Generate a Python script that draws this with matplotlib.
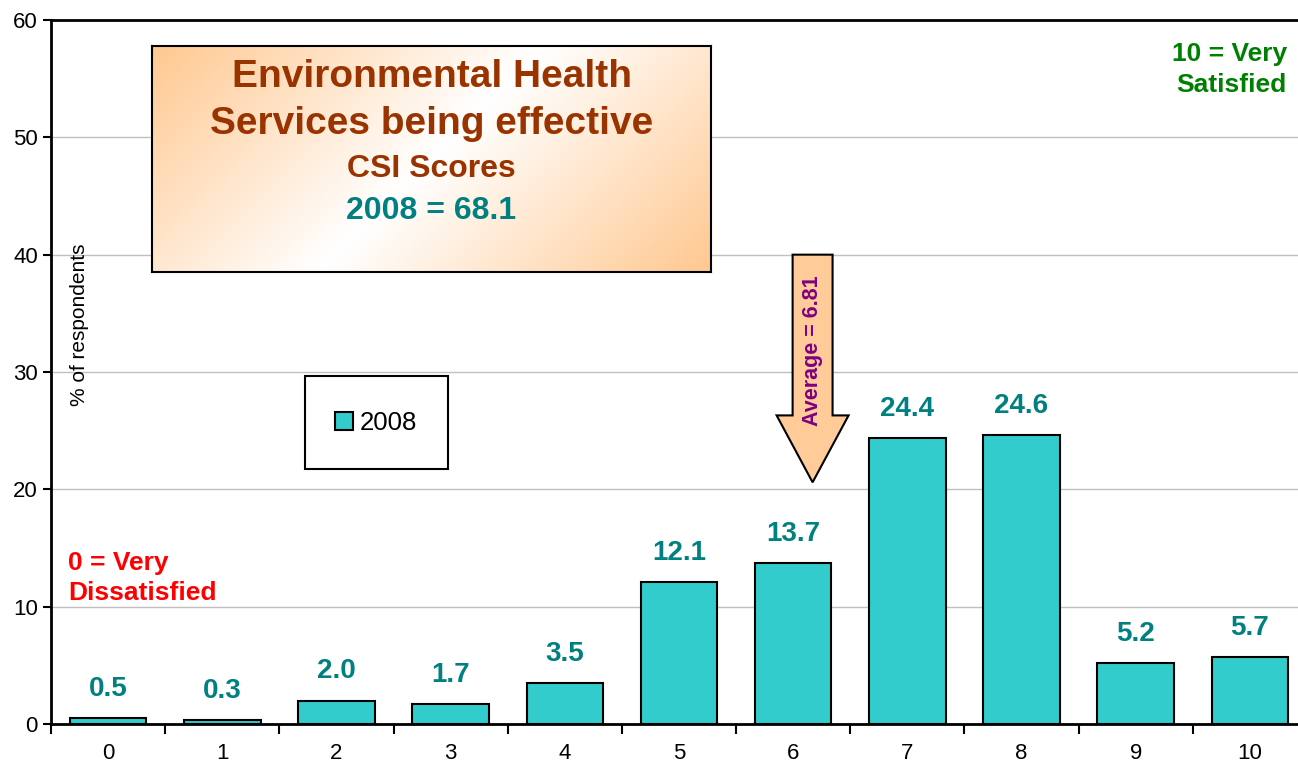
import numpy as np
import matplotlib.pyplot as plt
from matplotlib.patches import Rectangle, FancyArrow
from matplotlib.colors import LinearSegmentedColormap

plt.rcParams['font.family'] = ['Liberation Sans', 'DejaVu Sans']

# data
scores = [0, 1, 2, 3, 4, 5, 6, 7, 8, 9, 10]
pct_2008 = [0.5, 0.3, 2.0, 1.7, 3.5, 12.1, 13.7, 24.4, 24.6, 5.2, 5.7]
series_name = '2008'
csi_score = 68.1
average = 6.81

bar_col = '#33CCCC'
teal = '#008080'
brown = '#993300'

fig = plt.figure(figsize=(12.98, 7.67), dpi=100)
ax = fig.add_axes([51 / 1298, 43 / 767, 1256 / 1298, 704 / 767])

x = np.arange(len(scores))
ax.bar(x, pct_2008, width=0.67, color=bar_col, edgecolor='black', linewidth=1.5,
       label=series_name, zorder=3)
for xi, v in zip(x, pct_2008):
    ax.annotate(f'{v:.1f}', (xi, v), xytext=(0, 21), textcoords='offset points',
                ha='center', va='center', fontsize=20, fontweight='bold', color=teal)

ax.set_xlim(-0.5, len(scores) - 0.5)
ax.set_ylim(0, 60)
ax.set_yticks(range(0, 61, 10))
ax.set_xticks(x)
ax.set_xticklabels([str(s) for s in scores])
ax.set_xticks(np.arange(-0.5, len(scores), 1), minor=True)
ax.tick_params(axis='x', which='major', length=0, labelsize=16, pad=14)
ax.tick_params(axis='x', which='minor', length=7, width=1.5, direction='out')
ax.tick_params(axis='y', length=6, width=1.5, direction='out', labelsize=16)
ax.grid(axis='y', color='#C0C0C0', linewidth=1, zorder=0)
for s in ['left', 'bottom', 'top']:
    ax.spines[s].set_linewidth(2)
ax.spines['right'].set_visible(False)

ax.text(0.023, 0.567, '% of respondents', transform=ax.transAxes, rotation=90,
        ha='center', va='center', fontsize=15)

ax.text(0.0135, 0.207, '0 = Very\nDissatisfied', transform=ax.transAxes, ha='left',
        va='center', fontsize=19, fontweight='bold', color='#FF0000', linespacing=1.32)
ax.text(0.984, 0.930, '10 = Very\nSatisfied', transform=ax.transAxes, ha='right',
        va='center', fontsize=19, fontweight='bold', color='#008000', linespacing=1.38)

# legend box
ax.add_patch(Rectangle((0.202, 0.362), 0.114, 0.132, transform=ax.transAxes,
                       facecolor='white', edgecolor='black', linewidth=1.5, zorder=4))
ax.legend(loc='center', bbox_to_anchor=(0.202, 0.362, 0.114, 0.132), frameon=False,
          fontsize=18.5, handlelength=0.7, handleheight=0.7, handletextpad=0.25).set_zorder(5)

# average arrow
ax.add_patch(FancyArrow(6.17, 40, 0, -19.4, width=0.35, head_width=0.63, head_length=5.7,
                        length_includes_head=True, facecolor='#FFCC99', edgecolor='black',
                        linewidth=1.5, zorder=4))
ax.text(6.17, 31.8, f'Average = {average}', rotation=90, ha='center', va='center',
        fontsize=15.5, fontweight='bold', color='#800080', zorder=5)

# title box with gradient
tax = fig.add_axes([152 / 1298, (767 - 272) / 767, 559 / 1298, 226 / 767])
u, v = np.meshgrid(np.linspace(0, 1, 300), np.linspace(0, 1, 150))
t = (u * 559 + v * 226) / 785
g = np.abs(t - 0.5) * 2
cmap = LinearSegmentedColormap.from_list('og', ['white', '#FFC890'])
tax.imshow(g, cmap=cmap, extent=[0, 1, 0, 1], aspect='auto', origin='upper', vmin=0, vmax=1)
tax.set_xticks([])
tax.set_yticks([])
for s in tax.spines.values():
    s.set_linewidth(1.5)
tax.text(0.5, 0.863, 'Environmental Health', ha='center', va='center', fontsize=28,
         fontweight='bold', color=brown)
tax.text(0.5, 0.655, 'Services being effective', ha='center', va='center', fontsize=28,
         fontweight='bold', color=brown)
tax.text(0.5, 0.456, 'CSI Scores', ha='center', va='center', fontsize=23,
         fontweight='bold', color=brown)
tax.text(0.5, 0.27, f'{series_name} = {csi_score}', ha='center', va='center', fontsize=23,
         fontweight='bold', color=teal)

fig.savefig('out.png', dpi=100)
